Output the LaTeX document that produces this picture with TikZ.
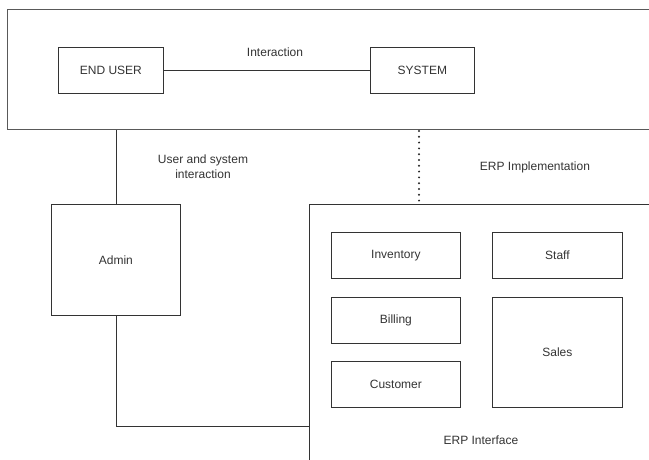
\documentclass[tikz,border=0pt]{standalone}
\usepackage{fontspec}
\setmainfont{Liberation Sans}
\begin{document}
\begin{tikzpicture}[x=1pt,y=-1pt,
  line width=0.8pt,
  boxst/.style={draw=black!80, line width=0.8pt, inner sep=0pt, anchor=north west, font=\fontsize{12}{14}\selectfont, text=black!80},
  lbl/.style={font=\fontsize{12}{15}\selectfont, text=black!80, inner sep=0pt, align=center},
  conn/.style={draw=black!80, line width=0.8pt}]
\useasboundingbox (0,0) rectangle (649,460);
\clip (0,0) rectangle (649,460);
% containers
\node[boxst, draw=black!65, minimum width=660, minimum height=120] (top) at (7,9) {};
\node[boxst, minimum width=360, minimum height=270] (erp) at (309,204) {};
% top inner
\node[boxst, minimum width=105, minimum height=46] (enduser) at (58,47) {END USER};
\node[boxst, minimum width=104, minimum height=46] (system) at (370,47) {SYSTEM};
\draw[conn] (enduser) -- (system);
\node[lbl] (interaction) at (275,52) {Interaction};
% admin
\node[boxst, minimum width=129, minimum height=111] (admin) at (51,204) {Admin};
\draw[conn] (admin.north) -- (admin.north |- top.south);
\node[lbl] (usi) at (203,167) {User and system\\interaction};
\coordinate (corner) at (306,426);
\draw[conn] (admin.south) |- (erp.west |- corner);
% dotted
\coordinate (dtop) at (419,131);
\draw[conn, draw=black!85, line width=2.2pt, line cap=round, dash pattern=on 0pt off 5.8pt] (dtop) -- (dtop |- erp.north);
\node[lbl] (erpimpl) at (535,167) {ERP Implementation};
% modules
\node[boxst, minimum width=129, minimum height=46] (inv) at (331,232) {Inventory};
\node[boxst, minimum width=130, minimum height=46] (staff) at (492,232) {Staff};
\node[boxst, minimum width=129, minimum height=46] (bill) at (331,297) {Billing};
\node[boxst, minimum width=130, minimum height=110] (sales) at (492,297) {Sales};
\node[boxst, minimum width=129, minimum height=46] (cust) at (331,361) {Customer};
\node[lbl] (erpif) at (481,440) {ERP Interface};
\end{tikzpicture}
\end{document}
